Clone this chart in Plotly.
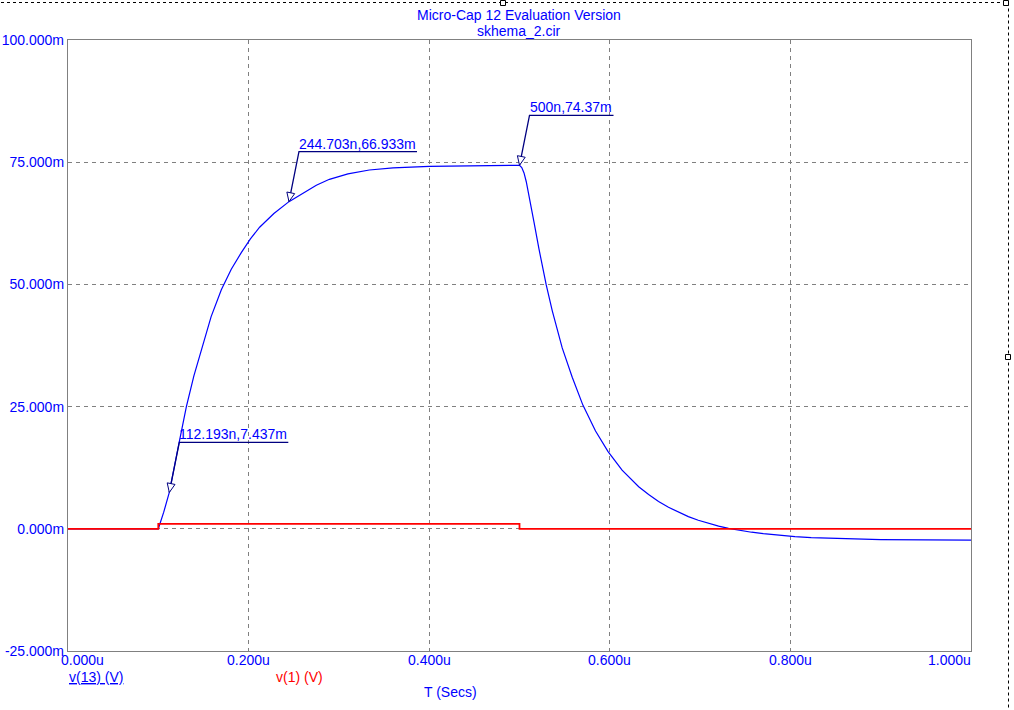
import plotly.graph_objects as go

# ---------------- data ----------------
# v(13) in mV versus time in microseconds
t13 = [0.0, 0.100, 0.106, 0.112193, 0.1216, 0.1311, 0.1394, 0.1477, 0.1585, 0.1698,
       0.1808, 0.1919, 0.202, 0.2122, 0.228, 0.244703, 0.26, 0.275, 0.2895, 0.31,
       0.3337, 0.36, 0.40, 0.45, 0.50, 0.5025, 0.505, 0.5075, 0.5105, 0.516,
       0.5215, 0.5296, 0.5363, 0.5473, 0.5584, 0.5702, 0.5842, 0.5981, 0.6136, 0.632,
       0.643, 0.654, 0.665, 0.676, 0.687, 0.698, 0.709, 0.7205, 0.7315, 0.74,
       0.757, 0.77, 0.787, 0.805, 0.823, 0.86, 0.90, 0.95, 1.0]
v13 = [0.0, 0.0, 3.4, 7.437, 16.3, 25.0, 31.3, 36.8, 43.4, 48.9,
       53.1, 56.5, 59.3, 61.7, 64.5, 66.933, 68.7, 70.3, 71.5, 72.6,
       73.4, 73.85, 74.15, 74.3, 74.37, 73.9, 72.8, 71.0, 68.3, 62.8,
       57.3, 49.9, 44.6, 37.0, 31.0, 25.3, 20.0, 15.8, 12.0, 8.6,
       7.0, 5.6, 4.4, 3.4, 2.5, 1.75, 1.1, 0.55, 0.1, -0.2,
       -0.7, -1.0, -1.35, -1.6, -1.8, -2.05, -2.2, -2.28, -2.32]

# v(1) in mV versus time in microseconds
t1 = [0.0, 0.1, 0.1, 0.5, 0.5, 1.0]
v1 = [0.0, 0.0, 1.0, 1.0, 0.0, 0.0]

# cursor markers
mark_t = [0.112193, 0.244703, 0.5]
mark_v = [7.437, 66.933, 74.37]
mark_text = ["112.193n,7.437m", "244.703n,66.933m", "500n,74.37m"]

# axis ticks
x_ticks = [0.0, 0.2, 0.4, 0.6, 0.8, 1.0]
x_ticklabels = ["0.000u", "0.200u", "0.400u", "0.600u", "0.800u", "1.000u"]
y_ticks = [-25, 0, 25, 50, 75, 100]
y_ticklabels = ["-25.000m", "0.000m", "25.000m", "50.000m", "75.000m", "100.000m"]

title_lines = ["Micro-Cap 12 Evaluation Version", "skhema_2.cir"]
x_title = "T (Secs)"
legend_names = ["v(13) (V)", "v(1) (V)"]

# ---------------- style ----------------
BLUE = "#0000ff"
NAVY = "#000080"
RED = "#ff0000"
GRAY = "#808080"
FONT = "Liberation Sans, Arial, sans-serif"
W, H = 1014, 710
L, R, T, B = 68, 1014 - 971, 40, 710 - 651
PW, PH = W - L - R, H - T - B


def px_x(px):
    return (px - L) / PW


def px_y(py):
    return (H - B - py) / PH


fig = go.Figure()
fig.add_trace(go.Scatter(x=t13, y=v13, mode="lines", line=dict(color=BLUE, width=1.2),
                         showlegend=False, hoverinfo="skip"))
fig.add_trace(go.Scatter(x=t1, y=v1, mode="lines", line=dict(color=RED, width=1.8),
                         showlegend=False, hoverinfo="skip"))

shapes = []
annotations = []

# cursor markers: leader, underline, hollow triangle, text
leader_dx, leader_dy = 10, 50
underline_len = [109, 118, 84]
for mt, mv, txt, ul in zip(mark_t, mark_v, mark_text, underline_len):
    shapes.append(dict(type="path", xref="x", yref="y", xsizemode="pixel", ysizemode="pixel",
                       xanchor=mt, yanchor=mv,
                       path=f"M 0,0 L {leader_dx},{leader_dy} L {leader_dx + ul},{leader_dy}",
                       line=dict(color=NAVY, width=1.3), layer="above"))
    shapes.append(dict(type="path", xref="x", yref="y", xsizemode="pixel", ysizemode="pixel",
                       xanchor=mt, yanchor=mv,
                       path="M 0,0 L 5.7,8.0 L -2.1,9.6 Z",
                       line=dict(color=NAVY, width=1), fillcolor="white", layer="above"))
    annotations.append(dict(x=mt, y=mv, xref="x", yref="y", text=txt, showarrow=False,
                            xanchor="left", yanchor="bottom", xshift=leader_dx - 1,
                            yshift=leader_dy - 1, borderpad=0,
                            font=dict(family=FONT, size=14, color=BLUE)))

# x tick labels (first left aligned, last right aligned)
for i, (xv, lab) in enumerate(zip(x_ticks, x_ticklabels)):
    if i == 0:
        anchor, shift = "left", -9
    elif i == len(x_ticks) - 1:
        anchor, shift = "right", 2
    else:
        anchor, shift = "center", 0
    annotations.append(dict(x=xv, y=0, xref="x", yref="paper", text=lab, showarrow=False,
                            xanchor=anchor, yanchor="top", yshift=1, xshift=shift,
                            font=dict(family=FONT, size=14, color=BLUE)))

# titles
annotations.append(dict(x=px_x(519), y=px_y(15), xref="paper", yref="paper", text=title_lines[0],
                        showarrow=False, xanchor="center", yanchor="middle",
                        font=dict(family=FONT, size=14, color=BLUE)))
annotations.append(dict(x=px_x(519), y=px_y(31), xref="paper", yref="paper", text=title_lines[1],
                        showarrow=False, xanchor="center", yanchor="middle",
                        font=dict(family=FONT, size=14, color=BLUE)))
# legend-like labels
annotations.append(dict(x=px_x(67), y=px_y(677), xref="paper", yref="paper",
                        text=f"<u>{legend_names[0]}</u>", showarrow=False,
                        xanchor="left", yanchor="middle",
                        font=dict(family=FONT, size=14, color=BLUE)))
annotations.append(dict(x=px_x(274), y=px_y(677), xref="paper", yref="paper",
                        text=legend_names[1], showarrow=False,
                        xanchor="left", yanchor="middle",
                        font=dict(family=FONT, size=14, color=RED)))
annotations.append(dict(x=px_x(450), y=px_y(692), xref="paper", yref="paper",
                        text=x_title, showarrow=False, xanchor="center", yanchor="middle",
                        font=dict(family=FONT, size=14, color=BLUE)))

# selection frame (dashed) and handles
shapes.append(dict(type="line", xref="paper", yref="paper", x0=px_x(-5), x1=px_x(1006),
                   y0=px_y(2.5), y1=px_y(2.5), line=dict(color="black", width=1, dash="3px,3px")))
shapes.append(dict(type="line", xref="paper", yref="paper", x0=px_x(1008.5), x1=px_x(1008.5),
                   y0=px_y(2.5), y1=px_y(715), line=dict(color="black", width=1, dash="3px,3px")))
for hx, hy in [(503, 3), (1006, 3), (1008, 357)]:
    shapes.append(dict(type="rect", xref="paper", yref="paper", xsizemode="pixel",
                       ysizemode="pixel", xanchor=px_x(hx), yanchor=px_y(hy),
                       x0=-2.5, x1=2.5, y0=-2.5, y1=2.5,
                       line=dict(color="black", width=1), fillcolor="white"))

fig.update_layout(
    width=W, height=H,
    margin=dict(l=L, r=R, t=T, b=B, pad=0, autoexpand=False),
    paper_bgcolor="white", plot_bgcolor="white",
    showlegend=False,
    shapes=shapes, annotations=annotations,
    xaxis=dict(range=[0, 1], tickvals=x_ticks, showticklabels=False, ticks="",
               showgrid=True, gridcolor=GRAY, gridwidth=1, griddash="4px,4px",
               showline=True, mirror=True, linecolor=GRAY, linewidth=1.3, zeroline=False,
               fixedrange=True, automargin=False),
    yaxis=dict(range=[-25, 100], tickvals=y_ticks, ticktext=y_ticklabels, ticks="",
               tickfont=dict(family=FONT, size=14, color=BLUE),
               showgrid=True, gridcolor=GRAY, gridwidth=1, griddash="4px,4px",
               showline=True, mirror=True, linecolor=GRAY, linewidth=1.3, zeroline=False,
               fixedrange=True, automargin=False),
)

fig.write_html("out.html", config={"displayModeBar": False},
               post_script="document.body.style.margin='0';document.body.style.overflow='hidden';")
